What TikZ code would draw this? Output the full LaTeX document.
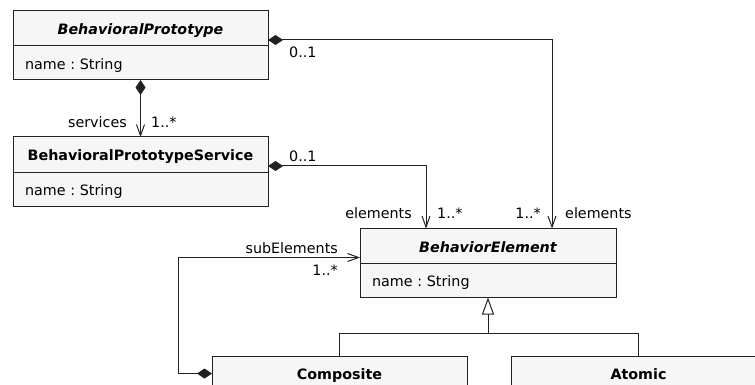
\documentclass[tikz,border=0pt]{standalone}
\usepackage{fontspec}
\setmainfont{DejaVu Sans}
\usetikzlibrary{arrows.meta}
\definecolor{boxfill}{HTML}{F6F6F6}
\definecolor{linec}{HTML}{222222}
\frenchspacing
\begin{document}
\begin{tikzpicture}[x=1pt,y=-1pt,font=\fontsize{14.3}{16}\selectfont,
  cls/.style={draw=linec,fill=boxfill,line width=1pt,rectangle,minimum width=255pt,inner sep=0pt,outer sep=0pt,text height=14pt,text depth=1.4pt},
  hdr/.style={cls,minimum height=35pt,font=\fontsize{14.3}{16}\selectfont\bfseries},
  attr/.style={cls,minimum height=34pt,text width=231pt,inner xsep=12pt,align=left},
  lbl/.style={inner sep=0pt,text=black},
  comp/.style={draw=linec,line width=1pt,{Diamond[length=15pt,width=10pt]}-{Straight Barb[length=11pt,width=8pt,line width=1pt]}},
  gen/.style={draw=linec,line width=1pt,-{Triangle[open,length=17pt,width=12pt,fill=white]}},
  plain/.style={draw=linec,line width=1pt}]
\useasboundingbox (0,0) rectangle (755,385);
\clip (0,0) rectangle (755,385);
% classes
\node[hdr] (bph) at (140.5,28.5) {\itshape BehavioralPrototype};
\node[attr] (bpa) at (140.5,63) {name : String};
\node[hdr] (bsh) at (140.5,154.5) {BehavioralPrototypeService};
\node[attr] (bsa) at (140.5,189.5) {name : String};
\node[hdr,minimum width=256pt] (beh) at (488,246) {\itshape BehaviorElement};
\node[attr,minimum width=256pt,text width=232pt] (bea) at (488,280.5) {name : String};
\node[hdr] (cmh) at (339.5,373.5) {Composite};
\node[hdr] (ath) at (638.5,373.5) {Atomic};
% connectors
\draw[comp] (bpa.south) -- (bsh.north);
\draw[comp] ([yshift=-11.5pt]bph.east) -| ([xshift=64pt]beh.north);
\draw[comp] ([yshift=-11.5pt]bsh.east) -| ([xshift=-62pt]beh.north);
\draw[comp] (cmh.west) -- ++(-34,0) |- ([yshift=-29pt]beh.north west);
\coordinate (j) at (488,333);
\draw[plain] (cmh.north) |- (j);
\draw[plain] (ath.north) |- (j);
\draw[gen] (j) -- (bea.south);
% labels
\node[lbl,anchor=east] (l1) at (127,122) {services};
\node[lbl,anchor=west] (l2) at (151,122) {1..*};
\node[lbl,anchor=west] (l3) at (289,52) {0..1};
\node[lbl,anchor=west] (l4) at (289,156) {0..1};
\node[lbl,anchor=east] (l5) at (412,213) {elements};
\node[lbl,anchor=west] (l6) at (437,213) {1..*};
\node[lbl,anchor=east] (l7) at (541,213) {1..*};
\node[lbl,anchor=west] (l8) at (565,213) {elements};
\node[lbl,anchor=east] (l9) at (338,248) {subElements};
\node[lbl,anchor=east] (l10) at (338,270) {1..*};
\end{tikzpicture}
\end{document}
